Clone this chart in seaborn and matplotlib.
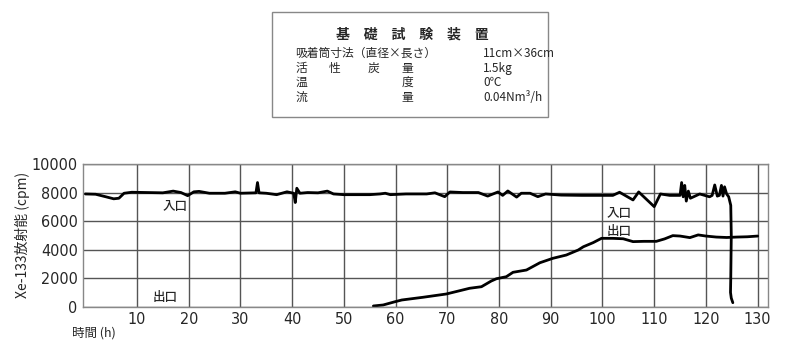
import pandas as pd
import matplotlib.pyplot as plt
import seaborn as sns
from matplotlib.patches import Rectangle

sns.set_style("white")
plt.rcParams['font.family'] = ['Noto Sans CJK JP', 'DejaVu Sans']

# inlet (入口) activity, cpm
inlet_t = [0, 2, 4, 5.5, 6.5, 7.5, 9, 12, 15, 17, 18.5, 19.8, 21, 22, 24, 27, 29, 30,
           33, 33.3, 33.6, 35, 37, 39, 40.3, 40.6, 40.9, 41.5, 43, 45, 46.8, 48, 50,
           55, 57, 58, 59, 62, 66, 67.6, 69.5, 70.5, 73, 76, 77.8, 79.8, 80.7, 81.7,
           83.4, 84.3, 86, 87.5, 89, 92, 96, 102, 103.3, 105.9, 107, 110, 111.2,
           113, 115, 115.3, 115.6, 115.9, 116.2, 116.6, 117, 118.8, 120.7, 121.2,
           121.7, 122.2, 122.6, 123, 123.3, 123.6, 124, 124.4, 124.8, 124.9, 124.8,
           124.75, 124.9, 125.2]
inlet_cpm = [7900, 7880, 7700, 7560, 7600, 7950, 8020, 8000, 7980, 8100, 8000, 7780,
             8050, 8080, 7950, 7950, 8050, 7950, 7980, 8700, 7980, 7950, 7850, 8050,
             7950, 7300, 8300, 7950, 8000, 7980, 8100, 7900, 7850, 7850, 7900, 7950,
             7850, 7900, 7900, 7980, 7710, 8040, 8000, 8000, 7750, 8040, 7800, 8110,
             7680, 7950, 7950, 7710, 7900, 7820, 7800, 7800, 8020, 7480, 8040, 7010,
             7900, 7800, 7800, 8700, 7700, 8500, 7400, 8100, 7600, 7900, 7700, 7800,
             8530, 7750, 7800, 8500, 7750, 8400, 7900, 7700, 7100, 5000, 2000, 1000,
             600, 280]

# outlet (出口) activity, cpm
outlet_t = [55.7, 57.6, 59.9, 61.2, 65.3, 69.8, 72.4, 74.3, 76.6, 78.5, 79.5, 81.4,
            82.7, 85.3, 87.9, 90.4, 93, 95.3, 96.3, 98.2, 99.8, 102, 104, 105.9,
            108, 110.4, 112, 113.6, 115, 116.9, 118.5, 120, 122, 124, 126, 128, 130]
outlet_cpm = [50, 120, 350, 470, 660, 890, 1120, 1290, 1400, 1800, 1960, 2100,
              2410, 2570, 3080, 3390, 3620, 3970, 4200, 4490, 4790, 4790, 4760, 4560,
              4580, 4580, 4750, 4980, 4950, 4840, 5030, 4950, 4880, 4850, 4880, 4900, 4950]

box_title = "基　礎　試　験　装　置"
box_right = ["11cm×36cm", "1.5kg", "0℃", "0.04Nm³/h"]

inlet = pd.DataFrame({'t': inlet_t, 'cpm': inlet_cpm})
outlet = pd.DataFrame({'t': outlet_t, 'cpm': outlet_cpm})

fig = plt.figure(figsize=(8, 3.59), dpi=100)
ax = fig.add_axes([0.104, 0.1457, 0.856, 0.3975])

sns.lineplot(data=inlet, x='t', y='cpm', ax=ax, color='black', lw=2,
             sort=False, estimator=None)
sns.lineplot(data=outlet, x='t', y='cpm', ax=ax, color='black', lw=2,
             sort=False, estimator=None)

ax.set_xlim(-0.4, 132)
ax.set_ylim(0, 10000)
ax.set_xticks(range(10, 131, 10))
ax.set_yticks(range(0, 10001, 2000))
ax.grid(True, color='#555555', lw=1)
ax.set_axisbelow(True)
for s in ax.spines.values():
    s.set_color('#888888')
    s.set_linewidth(1)
ax.tick_params(length=0, pad=4, labelsize=11.5)
for lab in ax.get_xticklabels() + ax.get_yticklabels():
    lab.set_family('DejaVu Sans')
    lab.set_stretch('condensed')
ax.set_xlabel('')
ax.set_ylabel('Xe-133放射能 (cpm)', fontsize=10)
ax.yaxis.set_label_coords(-0.077, 0.5)

ax.text(15, 7000, '入口', fontsize=9, fontweight='medium', ha='left', va='center')
ax.text(13, 650, '出口', fontsize=9, fontweight='medium', ha='left', va='center')
ax.text(100.8, 6550, '入口', fontsize=9, fontweight='medium', ha='left', va='center')
ax.text(100.8, 5300, '出口', fontsize=9, fontweight='medium', ha='left', va='center')

fig.text(0.09, 0.072, '時間 (h)', fontsize=9, ha='left', va='center')

# info box
fig.patches.append(Rectangle((0.34, 0.674), 0.345, 0.2926, transform=fig.transFigure,
                             fill=False, edgecolor='#888888', lw=1))
fig.text(0.5155, 0.905, box_title, fontsize=10, fontweight='bold', ha='center', va='center')
rows_y = [0.851, 0.810, 0.770, 0.729]
fig.text(0.369, rows_y[0], '吸着筒寸法（直径×長さ）', fontsize=8.5, ha='left', va='center')
for ch, x in [('活', 0.369), ('性', 0.411), ('炭', 0.459), ('量', 0.502)]:
    fig.text(x, rows_y[1], ch, fontsize=8.5, ha='left', va='center')
fig.text(0.369, rows_y[2], '温', fontsize=8.5, ha='left', va='center')
fig.text(0.502, rows_y[2], '度', fontsize=8.5, ha='left', va='center')
fig.text(0.369, rows_y[3], '流', fontsize=8.5, ha='left', va='center')
fig.text(0.502, rows_y[3], '量', fontsize=8.5, ha='left', va='center')
for txt, y in zip(box_right, rows_y):
    fig.text(0.604, y, txt, fontsize=8.5, ha='left', va='center')

fig.savefig('out.png', dpi=100)
